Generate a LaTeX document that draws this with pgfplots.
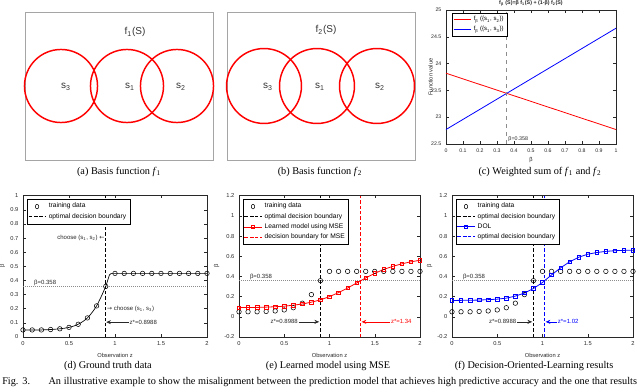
\documentclass[border=0pt]{standalone}
\usepackage{pgfplots}
\pgfplotsset{compat=1.18}
\usepackage{pgfplotstable}
\usepackage{fontspec}
\setmainfont{Liberation Serif}
\newfontfamily\plotfont{Liberation Sans}
\newfontfamily\symfont{DejaVu Sans}
\usetikzlibrary{arrows.meta}

\definecolor{axgray}{RGB}{40,40,40}
\definecolor{framegray}{RGB}{165,165,165}
\definecolor{refgray}{RGB}{140,140,140}
\definecolor{txtgray}{RGB}{50,50,50}

\newcommand{\tickf}{\plotfont\fontsize{4.3}{5}\selectfont}
\newcommand{\legf}{\plotfont\fontsize{5}{6}\selectfont}
\newcommand{\annf}{\plotfont\fontsize{4.5}{5.5}\selectfont}
\newcommand{\capf}{\fontsize{7.7}{9}\selectfont}
\newcommand{\la}{{\symfont ←}}
\newcommand{\ra}{{\symfont →}}

% training data (ground truth beta for each observation z)
\pgfplotstableread{
z beta
0.0 0.050
0.1 0.050
0.2 0.050
0.3 0.053
0.4 0.058
0.5 0.068
0.6 0.090
0.7 0.135
0.8 0.220
0.9 0.358
1.0 0.450
1.1 0.450
1.2 0.450
1.3 0.450
1.4 0.450
1.5 0.450
1.6 0.450
1.7 0.450
1.8 0.450
1.9 0.450
2.0 0.450
}\traindata

% ground truth curve, rising part
\pgfplotstableread{
z beta
0.0 0.050
0.1 0.050
0.2 0.050
0.3 0.053
0.4 0.058
0.5 0.068
0.6 0.090
0.7 0.135
0.8 0.220
0.9 0.358
}\truthrise

% learned model using MSE
\pgfplotstableread{
z beta
0.0 0.091
0.1 0.092
0.2 0.093
0.3 0.096
0.4 0.100
0.5 0.105
0.6 0.115
0.7 0.127
0.8 0.145
0.9 0.168
1.0 0.200
1.1 0.240
1.2 0.285
1.3 0.335
1.4 0.385
1.5 0.430
1.6 0.470
1.7 0.500
1.8 0.525
1.9 0.545
2.0 0.560
}\msedata

% decision-oriented learning
\pgfplotstableread{
z beta
0.0 0.162
0.1 0.163
0.2 0.164
0.3 0.166
0.4 0.170
0.5 0.175
0.6 0.185
0.7 0.205
0.8 0.235
0.9 0.280
1.0 0.340
1.1 0.415
1.2 0.485
1.3 0.545
1.4 0.590
1.5 0.620
1.6 0.637
1.7 0.648
1.8 0.655
1.9 0.658
2.0 0.660
}\doldata

\pgfplotsset{
  mat/.style={
    scale only axis, anchor=south west, clip=false,
    axis line style={axgray, line width=0.35pt},
    every tick/.style={axgray, line width=0.35pt},
    major tick length=2pt,
    /pgf/number format/assume math mode=true,
    ticklabel style={font=\tickf, text=axgray},
    label style={font=\tickf, text=axgray},
    ylabel style={yshift=-3pt},
    xlabel style={yshift=1pt},
    legend style={font=\legf, inner sep=0.8pt, line width=0.35pt,
      row sep=-1.5pt, at={(0.02,0.975)}, anchor=north west},
    legend image post style={xscale=0.75},
    legend cell align=left,
  },
  circ/.style={
    scale only axis, anchor=south west, clip=false,
    xtick=\empty, ytick=\empty, y dir=reverse,
    axis line style={framegray, line width=0.6pt},
  },
  train/.style={black, only marks, mark=o, mark size=1.7pt, mark options={line width=0.4pt}},
  bound/.style={dash pattern=on 2.5pt off 1.5pt, line width=0.8pt},
}

\begin{document}
\begin{tikzpicture}[x=0.75pt, y=-0.75pt]
\useasboundingbox (0,0) rectangle (640,388);
\coordinate (pa) at (25,160);
\coordinate (pb) at (227,160);
\coordinate (pc) at (446,144);
\coordinate (pd) at (23,337);
\coordinate (pe) at (239,337);
\coordinate (pf) at (452,337);

% (a)
\begin{axis}[circ, at={(pa)}, width=141pt, height=111pt,
  xmin=25, xmax=213, ymin=12, ymax=160]
\draw[red, line width=1.1pt] (axis cs:61,86) circle[radius=27.4pt];
\draw[red, line width=1.1pt] (axis cs:127,86) circle[radius=27.4pt];
\draw[red, line width=1.1pt] (axis cs:177,86) circle[radius=27.4pt];
\node[font=\plotfont\fontsize{7.5}{8}\selectfont, text=txtgray] at (axis cs:135,32) {f\textsubscript{1}(S)};
\node[font=\plotfont\fontsize{7.5}{8}\selectfont, text=txtgray] at (axis cs:66,87) {s\textsubscript{3}};
\node[font=\plotfont\fontsize{7.5}{8}\selectfont, text=txtgray] at (axis cs:130,87) {s\textsubscript{1}};
\node[font=\plotfont\fontsize{7.5}{8}\selectfont, text=txtgray] at (axis cs:181,87) {s\textsubscript{2}};
\end{axis}

% (b)
\begin{axis}[circ, at={(pb)}, width=141pt, height=111pt,
  xmin=227, xmax=415, ymin=12, ymax=160]
\draw[red, line width=1.1pt] (axis cs:264,86) circle[radius=28.1pt];
\draw[red, line width=1.1pt] (axis cs:317,86) circle[radius=28.1pt];
\draw[red, line width=1.1pt] (axis cs:377,86) circle[radius=28.1pt];
\node[font=\plotfont\fontsize{7.5}{8}\selectfont, text=txtgray] at (axis cs:326,30) {f\textsubscript{2}(S)};
\node[font=\plotfont\fontsize{7.5}{8}\selectfont, text=txtgray] at (axis cs:268,87) {s\textsubscript{3}};
\node[font=\plotfont\fontsize{7.5}{8}\selectfont, text=txtgray] at (axis cs:320,87) {s\textsubscript{1}};
\node[font=\plotfont\fontsize{7.5}{8}\selectfont, text=txtgray] at (axis cs:380,87) {s\textsubscript{2}};
\end{axis}

% (c)
\begin{axis}[mat, at={(pc)}, width=127.5pt, height=100.5pt,
  xmin=0, xmax=1, ymin=22.5, ymax=25,
  xtick={0,0.1,0.2,0.3,0.4,0.5,0.6,0.7,0.8,0.9,1},
  ytick={22.5,23,23.5,24,24.5,25},
  ticklabel style={font=\plotfont\fontsize{3.9}{4.5}\selectfont},
  xlabel={β}, ylabel={Function value},
  xlabel style={yshift=2pt}, ylabel style={yshift=-5pt},
  title={\textbf{f\textsubscript{β} (S)=β f\textsubscript{1}(S) + (1-β) f\textsubscript{2}(S)}},
  title style={font=\plotfont\fontsize{4}{5}\selectfont, text=axgray, yshift=-7pt},
  legend style={font=\plotfont\fontsize{4.5}{5.5}\selectfont, at={(0.035,0.98)}}]
\addplot[red, line width=0.6pt] coordinates {(0,23.82) (1,22.77)};
\addlegendentry{f\textsubscript{β} (\{s\textsubscript{1}, s\textsubscript{2}\})}
\addplot[blue, line width=0.6pt] coordinates {(0,22.77) (1,24.66)};
\addlegendentry{f\textsubscript{β} (\{s\textsubscript{1}, s\textsubscript{3}\})}
\addplot[refgray, dashed, line width=0.7pt, forget plot] coordinates {(0.358,22.5) (0.358,25)};
\node[anchor=west, font=\plotfont\fontsize{4}{5}\selectfont, text=axgray, inner sep=1pt] at (axis cs:0.358,22.6) {β=0.358};
\end{axis}

% (d)
\begin{axis}[mat, at={(pd)}, width=138pt, height=106pt,
  xmin=0, xmax=2, ymin=0, ymax=1,
  xtick={0,0.5,1,1.5,2},
  ytick={0,0.1,0.2,0.3,0.4,0.5,0.6,0.7,0.8,0.9,1},
  xlabel={Observation z}, ylabel={β}]
\addplot[refgray, densely dotted, line width=0.5pt, forget plot] coordinates {(0,0.358) (2,0.358)};
\addplot[black, line width=0.5pt, smooth, forget plot] table[x=z, y=beta] {\truthrise};
\addplot[black, line width=0.5pt, forget plot] coordinates {(0.9,0.358) (0.94,0.44) (0.96,0.45) (2,0.45)};
\addplot[train] table[x=z, y=beta] {\traindata};
\addlegendentry{training data}
\addplot[black, bound] coordinates {(0.8988,0) (0.8988,1)};
\addlegendentry{optimal decision boundary}
\node[anchor=south west, font=\annf, text=axgray, inner sep=0.6pt] at (axis cs:0.11,0.358) {β=0.358};
\node[anchor=east, font=\annf, text=axgray, inner sep=0.5pt] at (axis cs:0.895,0.70) {choose (s\textsubscript{1}, s\textsubscript{2}) \la};
\node[anchor=west, font=\annf, text=axgray, inner sep=0.5pt] at (axis cs:0.905,0.20) {\ra\ choose (s\textsubscript{1}, s\textsubscript{3})};
\draw[axgray, line width=0.4pt, -{Stealth[length=3.5pt, width=3pt]}] (axis cs:1.15,0.105) -- (axis cs:0.905,0.105);
\node[anchor=west, font=\annf, text=axgray, inner sep=0.5pt] at (axis cs:1.15,0.105) {z*=0.8988};
\end{axis}

% (e)
\begin{axis}[mat, at={(pe)}, width=135.75pt, height=106pt,
  xmin=0, xmax=2, ymin=-0.2, ymax=1.2,
  xtick={0,0.5,1,1.5,2},
  ytick={-0.2,0,0.2,0.4,0.6,0.8,1,1.2},
  xlabel={Observation z}, ylabel={β}]
\addplot[refgray, densely dotted, line width=0.5pt, forget plot] coordinates {(0,0.358) (2,0.358)};
\addplot[train] table[x=z, y=beta] {\traindata};
\addlegendentry{training data}
\addplot[black, bound] coordinates {(0.8988,-0.2) (0.8988,1.2)};
\addlegendentry{optimal decision boundary}
\addplot[red, line width=0.6pt, mark=square, mark size=1.3pt, mark options={solid, line width=0.5pt}] table[x=z, y=beta] {\msedata};
\addlegendentry{Learned model using MSE}
\addplot[red, bound] coordinates {(1.34,-0.2) (1.34,1.2)};
\addlegendentry{decision boundary for MSE}
\node[anchor=south west, font=\annf, text=axgray, inner sep=0.6pt] at (axis cs:0.11,0.358) {β=0.358};
\draw[axgray, line width=0.4pt, -{Stealth[length=3.5pt, width=3pt]}] (axis cs:0.66,-0.05) -- (axis cs:0.885,-0.05);
\node[anchor=east, font=\annf, text=axgray, inner sep=0.5pt] at (axis cs:0.66,-0.05) {z*=0.8988};
\draw[red, line width=0.4pt, -{Stealth[length=3.5pt, width=3pt]}] (axis cs:1.67,-0.05) -- (axis cs:1.355,-0.05);
\node[anchor=west, font=\annf, text=red, inner sep=0.5pt] at (axis cs:1.67,-0.05) {z*=1.34};
\end{axis}

% (f)
\begin{axis}[mat, at={(pf)}, width=135.75pt, height=106pt,
  xmin=0, xmax=2, ymin=-0.2, ymax=1.2,
  xtick={0,0.5,1,1.5,2},
  ytick={-0.2,0,0.2,0.4,0.6,0.8,1,1.2},
  xlabel={Observation z}, ylabel={β}]
\addplot[refgray, densely dotted, line width=0.5pt, forget plot] coordinates {(0,0.358) (2,0.358)};
\addplot[train] table[x=z, y=beta] {\traindata};
\addlegendentry{training data}
\addplot[black, bound] coordinates {(0.8988,-0.2) (0.8988,1.2)};
\addlegendentry{optimal decision boundary}
\addplot[blue, line width=0.6pt, mark=square, mark size=1.3pt, mark options={solid, line width=0.5pt}] table[x=z, y=beta] {\doldata};
\addlegendentry{DOL}
\addplot[blue, bound] coordinates {(1.02,-0.2) (1.02,1.2)};
\addlegendentry{optimal decision boundary}
\node[anchor=south west, font=\annf, text=axgray, inner sep=0.6pt] at (axis cs:0.11,0.358) {β=0.358};
\draw[axgray, line width=0.4pt, -{Stealth[length=3.5pt, width=3pt]}] (axis cs:0.72,-0.05) -- (axis cs:0.885,-0.05);
\node[anchor=east, font=\annf, text=axgray, inner sep=0.5pt] at (axis cs:0.72,-0.05) {z*=0.8988};
\draw[blue, line width=0.4pt, -{Stealth[length=3.5pt, width=3pt]}] (axis cs:1.16,-0.05) -- (axis cs:1.035,-0.05);
\node[anchor=west, font=\annf, text=blue, inner sep=0.5pt] at (axis cs:1.16,-0.05) {z*=1.02};
\end{axis}

% sub-captions and figure caption
\node[font=\capf] at (119,172) {(a) Basis function \textit{f}\textsubscript{1}};
\node[font=\capf] at (320,172) {(b) Basis function \textit{f}\textsubscript{2}};
\node[font=\capf] at (540,172) {(c) Weighted sum of \textit{f}\textsubscript{1} and \textit{f}\textsubscript{2}};
\node[font=\capf] at (108,366) {(d) Ground truth data};
\node[font=\capf] at (328,366) {(e) Learned model using MSE};
\node[font=\capf] at (534,366) {(f) Decision-Oriented-Learning results};
\node[font=\capf, anchor=west, inner sep=0pt] at (2,382) {\makebox[476pt][s]{Fig. 3.\hspace{1.8em}An illustrative example to show the misalignment between the prediction model that achieves high predictive accuracy and the one that results}};
\end{tikzpicture}
\end{document}
